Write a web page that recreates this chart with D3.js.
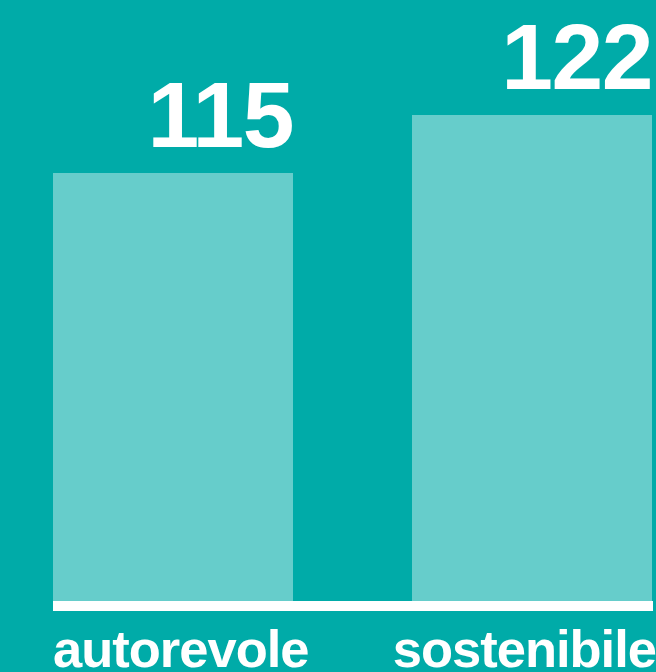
<!DOCTYPE html>
<html lang="it">
  <head>
    <meta charset="utf-8">
    <title>autorevole / sostenibile</title>
    <script src="https://d3js.org/d3.v7.min.js"></script>
    <style>
      html, body { margin: 0; padding: 0; background: #00aba8; }
      svg { display: block; }
      .value, .label { font-family: "Liberation Sans", Arial, sans-serif; font-weight: bold; fill: #fff; }
    </style>
  </head>
  <body>
    <div id="chart"></div>
    <script>
      // data
      var categories = ["autorevole", "sostenibile"];
      var values = [115, 122];
      var yMin = 63.35; // the axis does not start at zero

      var W = 656, H = 672;
      var left = 53, right = 652, base = 601;

      var svg = d3.select("#chart").append("svg")
        .attr("width", W).attr("height", H);

      svg.append("rect").attr("width", W).attr("height", H).attr("fill", "#00aba8");

      var x = d3.scaleBand().domain(categories).range([left, right])
        .paddingInner(0.3315).paddingOuter(0);
      var y = d3.scaleLinear().domain([yMin, d3.max(values)]).range([base, 115]);

      //bars
      svg.selectAll(".bar").data(values).enter().append("rect")
        .attr("class", "bar")
        .attr("x", function (d, i) { return x(categories[i]); })
        .attr("y", function (d) { return y(d); })
        .attr("width", x.bandwidth())
        .attr("height", function (d) { return base - y(d); })
        .attr("fill", "#66cdcb");

      //value labels, right aligned on the bar
      svg.selectAll(".value").data(values).enter().append("text")
        .attr("class", "value")
        .attr("x", function (d, i) { return x(categories[i]) + x.bandwidth(); })
        .attr("y", function (d) { return y(d) - 26; })
        .attr("text-anchor", "end")
        .style("font-size", "93px")
        .style("letter-spacing", "-1.5px")
        .text(function (d) { return d; });

      //baseline
      svg.append("line")
        .attr("x1", left).attr("x2", right + 1)
        .attr("y1", base + 5).attr("y2", base + 5)
        .attr("stroke", "#fff").attr("stroke-width", 10);

      //category labels, centred on the bar but kept inside the plot
      svg.selectAll(".label").data(categories).enter().append("text")
        .attr("class", "label")
        .attr("y", 667)
        .attr("text-anchor", "middle")
        .style("font-size", "52.5px")
        .style("letter-spacing", "-1px")
        .text(function (d) { return d; })
        .attr("x", function (d) {
          var half = this.getComputedTextLength() / 2;
          var c = x(d) + x.bandwidth() / 2;
          return Math.max(left + half, Math.min(W - half, c));
        });
    </script>
  </body>
</html>
